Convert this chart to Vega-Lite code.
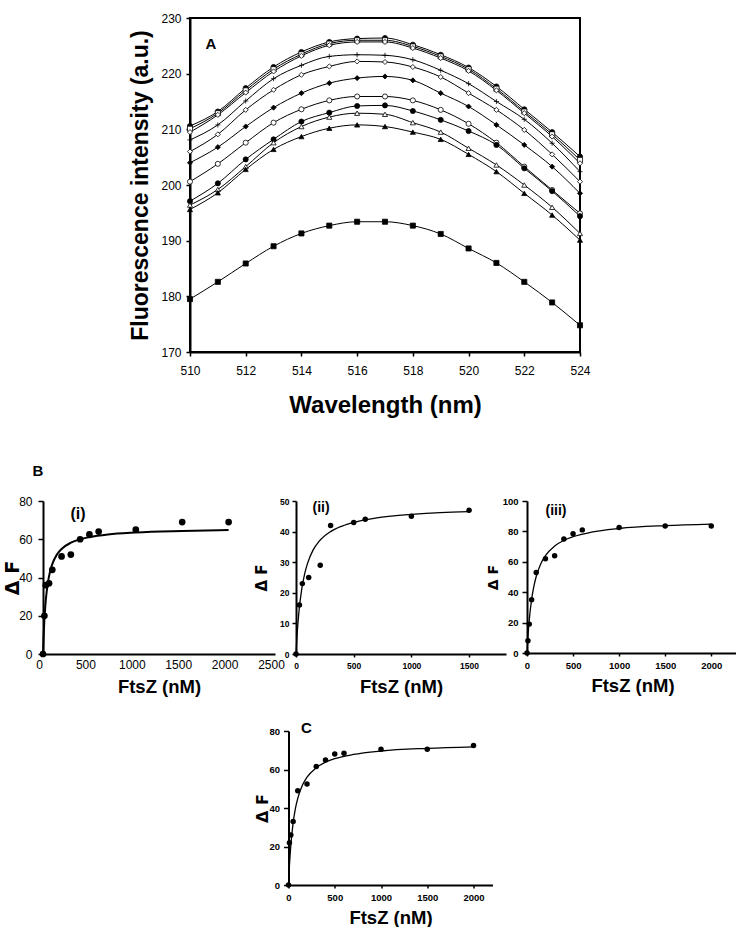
{
  "$schema": "https://vega.github.io/schema/vega-lite/v6.json",
  "background": "white",
  "padding": {"left": 3, "top": 11, "right": 0, "bottom": 0},
  "config": {
    "font": "Liberation Sans",
    "view": {"stroke": null},
    "axis": {
      "grid": false,
      "domainColor": "black",
      "domainWidth": 2,
      "tickColor": "black",
      "tickWidth": 1.5,
      "labelColor": "black",
      "titleColor": "black",
      "labelFont": "Liberation Sans",
      "titleFont": "Liberation Sans",
      "titleFontWeight": "bold",
      "labelOverlap": false,
      "format": "d"
    },
    "text": {"font": "Liberation Sans", "fontWeight": "bold", "color": "black", "align": "center", "baseline": "middle"}
  },
  "datasets": {
    "spectra": [
      {"s":"a1","wl":510,"F":210.6},{"s":"a1","wl":511,"F":213.2},{"s":"a1","wl":512,"F":217.4},{"s":"a1","wl":513,"F":221.2},{"s":"a1","wl":514,"F":223.9},{"s":"a1","wl":515,"F":225.7},{"s":"a1","wl":516,"F":226.3},{"s":"a1","wl":517,"F":226.4},{"s":"a1","wl":518,"F":225.2},{"s":"a1","wl":519,"F":223.4},{"s":"a1","wl":520,"F":221.1},{"s":"a1","wl":521,"F":217.7},{"s":"a1","wl":522,"F":213.6},{"s":"a1","wl":523,"F":209.5},{"s":"a1","wl":524,"F":205.1},
      {"s":"a2","wl":510,"F":210.1},{"s":"a2","wl":511,"F":212.9},{"s":"a2","wl":512,"F":217.0},{"s":"a2","wl":513,"F":220.8},{"s":"a2","wl":514,"F":223.5},{"s":"a2","wl":515,"F":225.4},{"s":"a2","wl":516,"F":226.0},{"s":"a2","wl":517,"F":226.0},{"s":"a2","wl":518,"F":224.9},{"s":"a2","wl":519,"F":223.1},{"s":"a2","wl":520,"F":220.8},{"s":"a2","wl":521,"F":217.3},{"s":"a2","wl":522,"F":213.2},{"s":"a2","wl":523,"F":209.1},{"s":"a2","wl":524,"F":204.5},
      {"s":"a3","wl":510,"F":209.5},{"s":"a3","wl":511,"F":212.6},{"s":"a3","wl":512,"F":216.6},{"s":"a3","wl":513,"F":220.4},{"s":"a3","wl":514,"F":223.2},{"s":"a3","wl":515,"F":225.1},{"s":"a3","wl":516,"F":225.7},{"s":"a3","wl":517,"F":225.7},{"s":"a3","wl":518,"F":224.6},{"s":"a3","wl":519,"F":222.8},{"s":"a3","wl":520,"F":220.5},{"s":"a3","wl":521,"F":217.0},{"s":"a3","wl":522,"F":212.9},{"s":"a3","wl":523,"F":208.7},{"s":"a3","wl":524,"F":203.9},
      {"s":"b","wl":510,"F":208.1},{"s":"b","wl":511,"F":210.8},{"s":"b","wl":512,"F":215.1},{"s":"b","wl":513,"F":219.1},{"s":"b","wl":514,"F":221.5},{"s":"b","wl":515,"F":223.1},{"s":"b","wl":516,"F":223.4},{"s":"b","wl":517,"F":223.3},{"s":"b","wl":518,"F":222.5},{"s":"b","wl":519,"F":220.6},{"s":"b","wl":520,"F":218.2},{"s":"b","wl":521,"F":215.0},{"s":"b","wl":522,"F":211.8},{"s":"b","wl":523,"F":207.5},{"s":"b","wl":524,"F":202.4},
      {"s":"c","wl":510,"F":206.0},{"s":"c","wl":511,"F":209.1},{"s":"c","wl":512,"F":213.5},{"s":"c","wl":513,"F":217.1},{"s":"c","wl":514,"F":219.8},{"s":"c","wl":515,"F":221.3},{"s":"c","wl":516,"F":222.2},{"s":"c","wl":517,"F":222.1},{"s":"c","wl":518,"F":221.2},{"s":"c","wl":519,"F":219.4},{"s":"c","wl":520,"F":216.5},{"s":"c","wl":521,"F":213.5},{"s":"c","wl":522,"F":209.9},{"s":"c","wl":523,"F":205.5},{"s":"c","wl":524,"F":200.6},
      {"s":"d","wl":510,"F":204.0},{"s":"d","wl":511,"F":206.8},{"s":"d","wl":512,"F":210.5},{"s":"d","wl":513,"F":213.9},{"s":"d","wl":514,"F":216.5},{"s":"d","wl":515,"F":218.3},{"s":"d","wl":516,"F":219.2},{"s":"d","wl":517,"F":219.5},{"s":"d","wl":518,"F":218.8},{"s":"d","wl":519,"F":216.5},{"s":"d","wl":520,"F":214.1},{"s":"d","wl":521,"F":210.8},{"s":"d","wl":522,"F":207.2},{"s":"d","wl":523,"F":203.3},{"s":"d","wl":524,"F":198.5},
      {"s":"e","wl":510,"F":200.6},{"s":"e","wl":511,"F":203.8},{"s":"e","wl":512,"F":207.6},{"s":"e","wl":513,"F":211.2},{"s":"e","wl":514,"F":213.6},{"s":"e","wl":515,"F":215.2},{"s":"e","wl":516,"F":215.9},{"s":"e","wl":517,"F":215.9},{"s":"e","wl":518,"F":215.2},{"s":"e","wl":519,"F":213.5},{"s":"e","wl":520,"F":211.0},{"s":"e","wl":521,"F":207.6},{"s":"e","wl":522,"F":203.3},{"s":"e","wl":523,"F":199.1},{"s":"e","wl":524,"F":194.9},
      {"s":"f","wl":510,"F":197.1},{"s":"f","wl":511,"F":200.3},{"s":"f","wl":512,"F":204.6},{"s":"f","wl":513,"F":208.2},{"s":"f","wl":514,"F":211.4},{"s":"f","wl":515,"F":213.0},{"s":"f","wl":516,"F":214.2},{"s":"f","wl":517,"F":214.3},{"s":"f","wl":518,"F":213.3},{"s":"f","wl":519,"F":211.7},{"s":"f","wl":520,"F":209.7},{"s":"f","wl":521,"F":207.2},{"s":"f","wl":522,"F":203.0},{"s":"f","wl":523,"F":198.9},{"s":"f","wl":524,"F":194.4},
      {"s":"g","wl":510,"F":196.4},{"s":"g","wl":511,"F":199.2},{"s":"g","wl":512,"F":203.3},{"s":"g","wl":513,"F":207.6},{"s":"g","wl":514,"F":210.5},{"s":"g","wl":515,"F":212.2},{"s":"g","wl":516,"F":212.9},{"s":"g","wl":517,"F":212.7},{"s":"g","wl":518,"F":211.2},{"s":"g","wl":519,"F":209.5},{"s":"g","wl":520,"F":206.6},{"s":"g","wl":521,"F":203.6},{"s":"g","wl":522,"F":200.0},{"s":"g","wl":523,"F":196.0},{"s":"g","wl":524,"F":191.3},
      {"s":"h","wl":510,"F":195.6},{"s":"h","wl":511,"F":198.6},{"s":"h","wl":512,"F":202.8},{"s":"h","wl":513,"F":206.4},{"s":"h","wl":514,"F":208.7},{"s":"h","wl":515,"F":210.2},{"s":"h","wl":516,"F":210.8},{"s":"h","wl":517,"F":210.5},{"s":"h","wl":518,"F":209.5},{"s":"h","wl":519,"F":208.2},{"s":"h","wl":520,"F":205.5},{"s":"h","wl":521,"F":202.4},{"s":"h","wl":522,"F":198.5},{"s":"h","wl":523,"F":194.6},{"s":"h","wl":524,"F":190.1},
      {"s":"i","wl":510,"F":179.5},{"s":"i","wl":511,"F":182.6},{"s":"i","wl":512,"F":185.9},{"s":"i","wl":513,"F":189.0},{"s":"i","wl":514,"F":191.3},{"s":"i","wl":515,"F":192.7},{"s":"i","wl":516,"F":193.4},{"s":"i","wl":517,"F":193.4},{"s":"i","wl":518,"F":192.7},{"s":"i","wl":519,"F":191.2},{"s":"i","wl":520,"F":188.6},{"s":"i","wl":521,"F":186.0},{"s":"i","wl":522,"F":182.6},{"s":"i","wl":523,"F":178.9},{"s":"i","wl":524,"F":174.8}
    ],
    "b1": [
      {"c":0,"dF":0},{"c":15,"dF":20},{"c":30,"dF":36},{"c":65,"dF":37},{"c":100,"dF":44},{"c":200,"dF":51},{"c":300,"dF":52},{"c":400,"dF":60},{"c":500,"dF":62.5},{"c":600,"dF":64},{"c":1000,"dF":65},{"c":1500,"dF":69},{"c":2000,"dF":69}
    ],
    "b1fit": [
      {"c":0,"dF":0},{"c":5,"dF":7.2},{"c":10,"dF":13},{"c":20,"dF":21.8},{"c":30,"dF":28.1},{"c":40,"dF":32.8},{"c":60,"dF":39.4},{"c":80,"dF":43.8},{"c":100,"dF":47},{"c":150,"dF":52},{"c":200,"dF":54.9},{"c":300,"dF":58.2},{"c":400,"dF":60},{"c":500,"dF":61.1},{"c":700,"dF":62.5},{"c":1000,"dF":63.5},{"c":1500,"dF":64.3},{"c":2000,"dF":64.8}
    ],
    "b2": [
      {"c":0,"dF":0},{"c":30,"dF":16},{"c":55,"dF":23},{"c":110,"dF":25},{"c":210,"dF":29},{"c":300,"dF":42},{"c":500,"dF":43},{"c":600,"dF":44},{"c":1000,"dF":45},{"c":1500,"dF":47}
    ],
    "b2fit": [
      {"c":0,"dF":0},{"c":5,"dF":3.5},{"c":10,"dF":6.6},{"c":25,"dF":13.7},{"c":50,"dF":21.3},{"c":75,"dF":26.2},{"c":100,"dF":29.6},{"c":150,"dF":34.1},{"c":200,"dF":36.8},{"c":300,"dF":40},{"c":400,"dF":41.8},{"c":500,"dF":43},{"c":700,"dF":44.5},{"c":1000,"dF":45.6},{"c":1250,"dF":46.2},{"c":1500,"dF":46.5}
    ],
    "b3": [
      {"c":0,"dF":0},{"c":10,"dF":8},{"c":25,"dF":19},{"c":50,"dF":35},{"c":100,"dF":53},{"c":200,"dF":62},{"c":300,"dF":64},{"c":400,"dF":75},{"c":500,"dF":78.5},{"c":600,"dF":81},{"c":1000,"dF":82.5},{"c":1500,"dF":83.5},{"c":2000,"dF":83.5}
    ],
    "b3fit": [
      {"c":0,"dF":0},{"c":5,"dF":5.5},{"c":10,"dF":10.4},{"c":25,"dF":22},{"c":50,"dF":35.2},{"c":75,"dF":44},{"c":100,"dF":50.3},{"c":150,"dF":58.7},{"c":200,"dF":64},{"c":300,"dF":70.4},{"c":400,"dF":74.1},{"c":500,"dF":76.5},{"c":700,"dF":79.5},{"c":1000,"dF":81.9},{"c":1500,"dF":83.8},{"c":2000,"dF":84.8}
    ],
    "cpts": [
      {"c":0,"dF":0},{"c":10,"dF":22},{"c":25,"dF":26},{"c":50,"dF":33},{"c":100,"dF":49},{"c":200,"dF":52.5},{"c":300,"dF":61.5},{"c":400,"dF":65},{"c":500,"dF":68},{"c":600,"dF":68.5},{"c":1000,"dF":70.5},{"c":1500,"dF":70.5},{"c":2000,"dF":72.5}
    ],
    "cfit": [
      {"c":0,"dF":0},{"c":5,"dF":5.3},{"c":10,"dF":9.9},{"c":25,"dF":20.6},{"c":50,"dF":32.3},{"c":75,"dF":39.8},{"c":100,"dF":45},{"c":150,"dF":51.8},{"c":200,"dF":56},{"c":300,"dF":60.9},{"c":400,"dF":63.8},{"c":500,"dF":65.6},{"c":700,"dF":67.8},{"c":1000,"dF":69.6},{"c":1500,"dF":71},{"c":2000,"dF":71.8}
    ]
  },
  "vconcat": [
    {
      "spacing": 45,
      "center": true,
      "vconcat": [
        {
          "width": 390,
          "height": 334,
          "view": {"stroke": "black", "strokeWidth": 2},
          "layer": [
            {
              "data": {"name": "spectra"},
              "mark": {"type": "line", "color": "black", "strokeWidth": 1, "interpolate": "monotone"},
              "encoding": {
                "x": {"field": "wl", "type": "quantitative",
                  "scale": {"domain": [510, 524], "nice": false, "zero": false},
                  "axis": {"values": [510, 512, 514, 516, 518, 520, 522, 524], "tickCount": 20, "labelFlush": false, "title": "Wavelength (nm)", "titleFontSize": 24, "labelFontSize": 12, "tickSize": 4, "labelPadding": 9, "titlePadding": 17}},
                "y": {"field": "F", "type": "quantitative",
                  "scale": {"domain": [170, 230], "nice": false, "zero": false},
                  "axis": {"values": [170, 180, 190, 200, 210, 220, 230], "tickCount": 20, "title": "Fluorescence intensity (a.u.)", "titleFontSize": 23, "labelFontSize": 12, "tickSize": 4, "labelPadding": 5, "titlePadding": 8}},
                "detail": {"field": "s"}
              }
            },
            {
              "data": {"name": "spectra"},
              "mark": {"type": "point", "filled": true, "stroke": "black", "strokeWidth": 0.8, "size": 26, "opacity": 1},
              "encoding": {
                "x": {"field": "wl", "type": "quantitative"},
                "y": {"field": "F", "type": "quantitative"},
                "shape": {"field": "s", "type": "nominal", "legend": null,
                  "scale": {"domain": ["a1", "a2", "a3", "b", "c", "d", "e", "f", "g", "h", "i"],
                            "range": ["circle", "square", "diamond", "M-1,0H1M0,-1V1", "diamond", "diamond", "circle", "circle", "triangle-up", "triangle-up", "square"]}},
                "fill": {"field": "s", "type": "nominal", "legend": null,
                  "scale": {"domain": ["a1", "a2", "a3", "b", "c", "d", "e", "f", "g", "h", "i"],
                            "range": ["black", "white", "white", "white", "white", "black", "white", "black", "white", "black", "black"]}}
              }
            },
            {
              "data": {"values": [{"label": "A"}]},
              "mark": {"type": "text", "fontSize": 15},
              "encoding": {"x": {"datum": 510.75}, "y": {"datum": 225.4}, "text": {"field": "label"}}
            }
          ]
        },
        {
          "hconcat": [
            {
              "width": 232,
              "height": 153,
              "layer": [
                {
                  "data": {"name": "b1fit"},
                  "mark": {"type": "line", "color": "black", "strokeWidth": 2, "interpolate": "monotone"},
                  "encoding": {
                    "x": {"field": "c", "type": "quantitative", "scale": {"domain": [0, 2500], "nice": false},
                      "axis": {"values": [0, 500, 1000, 1500, 2000, 2500], "tickCount": 20, "labelFlush": false, "labelOffset": -4, "title": "FtsZ (nM)", "titleFontSize": 18.5, "labelFontSize": 12, "ticks": false, "labelPadding": 5, "titlePadding": 7}},
                    "y": {"field": "dF", "type": "quantitative", "scale": {"domain": [0, 80], "nice": false},
                      "axis": {"values": [0, 20, 40, 60, 80], "tickCount": 20, "title": "Δ F", "titleFont": "DejaVu Sans", "titleFontSize": 19, "labelFontSize": 12, "tickSize": 5, "labelPadding": 6, "titlePadding": -4}}
                  }
                },
                {
                  "data": {"name": "b1"},
                  "mark": {"type": "circle", "color": "black", "size": 45, "opacity": 1},
                  "encoding": {"x": {"field": "c", "type": "quantitative"}, "y": {"field": "dF", "type": "quantitative"}}
                },
                {
                  "data": {"values": [{"label": "(i)"}]},
                  "mark": {"type": "text", "fontSize": 16},
                  "encoding": {"x": {"datum": 377}, "y": {"datum": 73.2}, "text": {"field": "label"}}
                },
                {
                  "data": {"values": [{"label": "B"}]},
                  "mark": {"type": "text", "fontSize": 15},
                  "encoding": {"x": {"datum": -54}, "y": {"datum": 95.7}, "text": {"field": "label"}}
                }
              ]
            },
            {
              "width": 210,
              "height": 153,
              "layer": [
                {
                  "data": {"name": "b2fit"},
                  "mark": {"type": "line", "color": "black", "strokeWidth": 1.3, "interpolate": "monotone"},
                  "encoding": {
                    "x": {"field": "c", "type": "quantitative", "scale": {"domain": [0, 1820], "nice": false},
                      "axis": {"values": [0, 500, 1000, 1500], "tickCount": 20, "labelFlush": false, "title": "FtsZ (nM)", "titleFontSize": 18.5, "labelFontSize": 8.5, "labelFontWeight": "bold", "tickSize": 3, "labelPadding": 4, "titlePadding": 8}},
                    "y": {"field": "dF", "type": "quantitative", "scale": {"domain": [0, 50], "nice": false},
                      "axis": {"values": [0, 10, 20, 30, 40, 50], "tickCount": 20, "title": "Δ F", "titleFont": "DejaVu Sans", "titleFontSize": 15, "labelFontSize": 8.5, "labelFontWeight": "bold", "tickSize": 4, "labelPadding": 3, "titlePadding": 10}}
                  }
                },
                {
                  "data": {"name": "b2"},
                  "mark": {"type": "circle", "color": "black", "size": 30, "opacity": 1},
                  "encoding": {"x": {"field": "c", "type": "quantitative"}, "y": {"field": "dF", "type": "quantitative"}}
                },
                {
                  "data": {"values": [{"label": "(ii)"}]},
                  "mark": {"type": "text", "fontSize": 14},
                  "encoding": {"x": {"datum": 217}, "y": {"datum": 47.7}, "text": {"field": "label"}}
                }
              ]
            },
            {
              "width": 211,
              "height": 152,
              "layer": [
                {
                  "data": {"name": "b3fit"},
                  "mark": {"type": "line", "color": "black", "strokeWidth": 1.3, "interpolate": "monotone"},
                  "encoding": {
                    "x": {"field": "c", "type": "quantitative", "scale": {"domain": [0, 2290], "nice": false},
                      "axis": {"values": [0, 500, 1000, 1500, 2000], "tickCount": 20, "labelFlush": false, "title": "FtsZ (nM)", "titleFontSize": 18.5, "labelFontSize": 9.5, "labelFontWeight": "bold", "tickSize": 3, "labelPadding": 4, "titlePadding": 7}},
                    "y": {"field": "dF", "type": "quantitative", "scale": {"domain": [0, 100], "nice": false},
                      "axis": {"values": [0, 20, 40, 60, 80, 100], "tickCount": 20, "title": "Δ F", "titleFont": "DejaVu Sans", "titleFontSize": 14, "labelFontSize": 9.5, "labelFontWeight": "bold", "tickSize": 5, "labelPadding": 4, "titlePadding": 2}}
                  }
                },
                {
                  "data": {"name": "b3"},
                  "mark": {"type": "circle", "color": "black", "size": 30, "opacity": 1},
                  "encoding": {"x": {"field": "c", "type": "quantitative"}, "y": {"field": "dF", "type": "quantitative"}}
                },
                {
                  "data": {"values": [{"label": "(iii)"}]},
                  "mark": {"type": "text", "fontSize": 14},
                  "encoding": {"x": {"datum": 315}, "y": {"datum": 93.7}, "text": {"field": "label"}}
                }
              ]
            }
          ],
          "bounds": "flush",
          "spacing": 21
        }
      ]
    },
    {
      "width": 204,
      "height": 154,
      "layer": [
        {
          "data": {"name": "cfit"},
          "mark": {"type": "line", "color": "black", "strokeWidth": 1.3, "interpolate": "monotone"},
          "encoding": {
            "x": {"field": "c", "type": "quantitative", "scale": {"domain": [0, 2205], "nice": false},
              "axis": {"values": [0, 500, 1000, 1500, 2000], "tickCount": 20, "labelFlush": false, "title": "FtsZ (nM)", "titleFontSize": 18.5, "labelFontSize": 9.5, "labelFontWeight": "bold", "tickSize": 3, "labelPadding": 4, "titlePadding": 7}},
            "y": {"field": "dF", "type": "quantitative", "scale": {"domain": [0, 80], "nice": false},
              "axis": {"values": [0, 20, 40, 60, 80], "tickCount": 20, "title": "Δ F", "titleFont": "DejaVu Sans", "titleFontSize": 16, "labelFontSize": 9.5, "labelFontWeight": "bold", "tickSize": 5, "labelPadding": 4, "titlePadding": -2}}
          }
        },
        {
          "data": {"name": "cpts"},
          "mark": {"type": "circle", "color": "black", "size": 30, "opacity": 1},
          "encoding": {"x": {"field": "c", "type": "quantitative"}, "y": {"field": "dF", "type": "quantitative"}}
        },
        {
          "data": {"values": [{"label": "C"}]},
          "mark": {"type": "text", "fontSize": 15},
          "encoding": {"x": {"datum": 195}, "y": {"datum": 81.8}, "text": {"field": "label"}}
        }
      ]
    }
  ],
  "spacing": 24,
  "center": true
}
